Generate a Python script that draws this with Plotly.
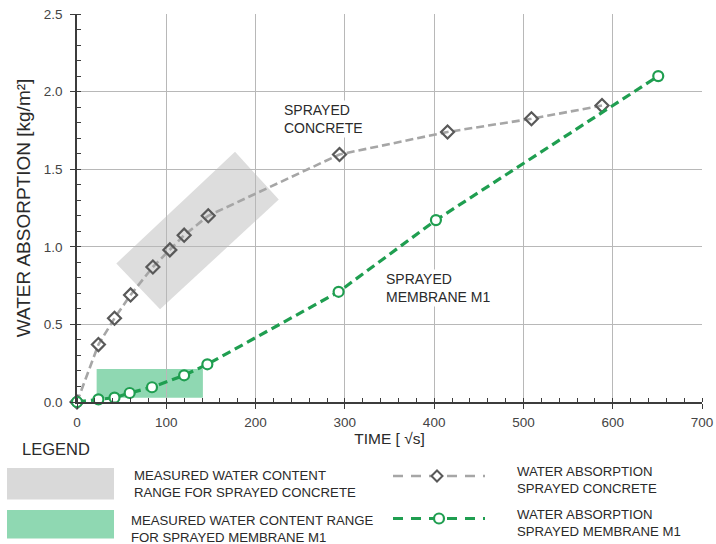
import plotly.graph_objects as go

# ---- data -------------------------------------------------------------
concrete_t = [0, 24, 42, 60, 85, 104, 120, 147, 294, 415, 509, 588]
concrete_w = [0.0, 0.37, 0.54, 0.69, 0.87, 0.98, 1.075, 1.20, 1.595, 1.74, 1.825, 1.91]

membrane_t = [0, 24, 42, 59, 84, 120, 146, 293, 402, 651]
membrane_w = [0.0, 0.017, 0.028, 0.058, 0.095, 0.172, 0.243, 0.71, 1.172, 2.10]

# measured water content ranges (corner points)
concrete_range_t = [44, 177, 226, 93]
concrete_range_w = [0.893, 1.612, 1.305, 0.597]
membrane_range_t = [22, 141, 141, 22]
membrane_range_w = [0.028, 0.028, 0.212, 0.212]

x_ticks = [0, 100, 200, 300, 400, 500, 600, 700]
y_ticks = [0.0, 0.5, 1.0, 1.5, 2.0, 2.5]

# ---- styling ----------------------------------------------------------
FONT = "Liberation Sans, Arial, sans-serif"
GRAY_LINE = "#a6a6a6"
GRAY_MARK = "#595959"
GREEN = "#1f9e50"
GRAY_FILL = "#dddddd"
GREEN_FILL = "#8fd8b2"
TEXT = "#2a2a2a"

W, H = 716, 544
L, R, T, B = 77, 702, 14, 402   # plot area in pixels


def px(x):
    return (x - L) / (R - L)


def py(y):
    return (B - y) / (B - T)


def poly_path(xs, ys):
    pts = " L ".join(f"{x},{y}" for x, y in zip(xs, ys))
    return f"M {pts} Z"


fig = go.Figure()

fig.add_trace(go.Scatter(
    x=concrete_t, y=concrete_w, mode="lines+markers",
    line=dict(color=GRAY_LINE, width=2.6, dash="8px,4px"),
    marker=dict(symbol="diamond-open", size=10, color=GRAY_MARK,
                line=dict(width=2.2, color=GRAY_MARK)),
    cliponaxis=False, showlegend=False,
))
fig.add_trace(go.Scatter(
    x=membrane_t, y=membrane_w, mode="lines+markers",
    line=dict(color=GREEN, width=3.2, dash="9px,5px"),
    marker=dict(symbol="circle", size=10, color="white",
                line=dict(width=2.2, color=GREEN)),
    cliponaxis=False, showlegend=False,
))

shapes = [
    dict(type="path", xref="x", yref="y", layer="below",
         path=poly_path(concrete_range_t, concrete_range_w),
         fillcolor=GRAY_FILL, line=dict(width=0)),
    dict(type="path", xref="x", yref="y", layer="below",
         path=poly_path(membrane_range_t, membrane_range_w),
         fillcolor=GREEN_FILL, line=dict(width=0)),
]

annotations = [
    dict(x=230, y=1.822, xref="x", yref="y", xanchor="left", yanchor="middle",
         text="SPRAYED<br>CONCRETE", showarrow=False, align="left",
         bgcolor="white", font=dict(family=FONT, size=14, color=TEXT)),
    dict(x=344, y=0.734, xref="x", yref="y", xanchor="left", yanchor="middle",
         text="SPRAYED<br>MEMBRANE M1", showarrow=False, align="left",
         bgcolor="white", font=dict(family=FONT, size=14, color=TEXT)),
]

# ---- legend block below the chart -------------------------------------
annotations.append(dict(x=px(20), y=py(449), xref="paper", yref="paper",
                        xanchor="left", yanchor="middle", text="LEGEND",
                        showarrow=False,
                        font=dict(family=FONT, size=16.5, color=TEXT)))

shapes += [
    dict(type="rect", xref="paper", yref="paper",
         x0=px(7), x1=px(114), y0=py(468), y1=py(499.5),
         fillcolor="#d9d9d9", line=dict(width=0)),
    dict(type="rect", xref="paper", yref="paper",
         x0=px(7), x1=px(114), y0=py(510), y1=py(538.5),
         fillcolor=GREEN_FILL, line=dict(width=0)),
    dict(type="line", xref="paper", yref="paper",
         x0=px(393), x1=px(485), y0=py(476), y1=py(476),
         line=dict(color=GRAY_LINE, width=2.6, dash="10px,8px")),
    dict(type="line", xref="paper", yref="paper",
         x0=px(393), x1=px(485), y0=py(518.5), y1=py(518.5),
         line=dict(color=GREEN, width=3.2, dash="10px,8px")),
]
# diamond and circle glyphs in the legend keys
shapes.append(dict(
    type="path", xref="paper", yref="paper",
    path=(f"M {px(431.5)},{py(476)} L {px(437)},{py(470.5)} "
          f"L {px(442.5)},{py(476)} L {px(437)},{py(481.5)} Z"),
    fillcolor="white", line=dict(color=GRAY_MARK, width=2)))
shapes.append(dict(
    type="circle", xref="paper", yref="paper",
    x0=px(434), x1=px(444), y0=py(523.5), y1=py(513.5),
    fillcolor="white", line=dict(color=GREEN, width=2.2)))

legend_texts = [
    (132, 484, "MEASURED WATER CONTENT<br>RANGE FOR SPRAYED CONCRETE"),
    (129, 529, "MEASURED WATER CONTENT RANGE<br>FOR SPRAYED MEMBRANE M1"),
    (515, 479.5, "WATER ABSORPTION<br>SPRAYED CONCRETE"),
    (515, 522.5, "WATER ABSORPTION<br>SPRAYED MEMBRANE M1"),
]
for lx, ly, txt in legend_texts:
    annotations.append(dict(x=px(lx), y=py(ly), xref="paper", yref="paper",
                            xanchor="left", yanchor="middle", text=txt,
                            showarrow=False, align="left",
                            font=dict(family=FONT, size=13.2, color=TEXT)))

axis_common = dict(
    automargin=False,
    showgrid=True, gridcolor="#b8b8b8", gridwidth=1,
    showline=True, linecolor="#3c3c3c", linewidth=1.5,
    ticks="outside", ticklen=5, tickwidth=1.2, tickcolor="#3c3c3c",
    zeroline=False,
    tickfont=dict(family=FONT, size=13.5, color="#444444"),
)

fig.update_layout(
    width=W, height=H,
    margin=dict(l=L, r=W - R, t=T, b=H - B, autoexpand=False),
    paper_bgcolor="white", plot_bgcolor="white",
    showlegend=False,
    shapes=shapes, annotations=annotations,
    xaxis=dict(
        range=[0, 700], tickvals=x_ticks, ticktext=[str(v) for v in x_ticks],
        minor=dict(dtick=20, tick0=0, ticks="inside", ticklen=4,
                   tickcolor="#3c3c3c", showgrid=False),
        ticklabelstandoff=2,
        title=dict(text="TIME [ √s]", standoff=0,
                   font=dict(family=FONT, size=15.5, color=TEXT)),
        **axis_common,
    ),
    yaxis=dict(
        range=[0, 2.5], tickvals=y_ticks, ticktext=[f"{v:.1f}" for v in y_ticks],
        minor=dict(dtick=0.1, tick0=0, ticks="inside", ticklen=4,
                   tickcolor="#3c3c3c", showgrid=False),
        ticklabelstandoff=5,
        title=dict(text="WATER ABSORPTION [kg/m²]", standoff=8,
                   font=dict(family=FONT, size=19, color=TEXT)),
        **axis_common,
    ),
)

fig.write_html("out.html")
